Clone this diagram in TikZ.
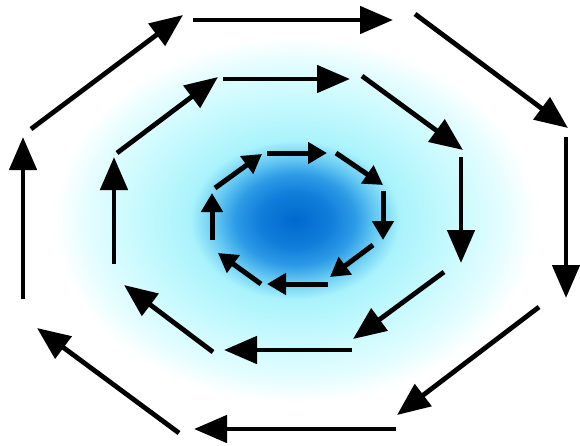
\documentclass[tikz,border=0pt]{standalone}
\usetikzlibrary{arrows.meta}
\definecolor{sc0}{RGB}{0,105,205}
\definecolor{sc1}{RGB}{15,125,218}
\definecolor{sc2}{RGB}{45,155,230}
\definecolor{sc3}{RGB}{100,200,242}
\definecolor{sc4}{RGB}{170,243,252}
\definecolor{sc5}{RGB}{200,250,254}
\definecolor{sc6}{RGB}{230,253,255}
\pgfdeclareradialshading{glow}{\pgfpointorigin}{color(0bp)=(sc0); color(3.5bp)=(sc1); color(6bp)=(sc2); color(8bp)=(sc3); color(10.5bp)=(sc4); color(16bp)=(sc5); color(21bp)=(sc6); color(24bp)=(white); color(50bp)=(white)}
\tikzset{
  bigarrow/.style={line width=4.8pt, -{Triangle[length=33pt,width=27pt]}},
  smallarrow/.style={line width=5pt, -{Triangle[length=19pt,width=21pt]}}
}
\begin{document}
\begin{tikzpicture}[x=1pt,y=-1pt]
\fill[white] (0,0) rectangle (580,445);
\useasboundingbox (0,0) rectangle (580,445);
\shade[shading=glow] (295,220) ellipse [x radius=250, y radius=190];
\foreach \n/\ax/\ay/\bx/\by/\st in {
  o1/31/129/183/15/bigarrow,
  o2/193/20/393/20/bigarrow,
  o3/415/14/568/128/bigarrow,
  o4/566/137/566/298/bigarrow,
  o5/539/307/397/415/bigarrow,
  o6/396/429/194/429/bigarrow,
  o7/179/433/37/328/bigarrow,
  o8/23/299/23/137/bigarrow,
  m1/117/153/218/77/bigarrow,
  m2/223/79/350/79/bigarrow,
  m3/362/76/463/150/bigarrow,
  m4/461/157/461/263/bigarrow,
  m5/444/272/353/339/bigarrow,
  m6/352/350/224/350/bigarrow,
  m7/213/352/124/285/bigarrow,
  m8/114/264/114/157/bigarrow,
  i1/215/188/262/154/smallarrow,
  i2/267/153/327/153/smallarrow,
  i3/336/153/383/185/smallarrow,
  i4/383/191/383/240/smallarrow,
  i5/373/245/330/277/smallarrow,
  i6/328/284/267/284/smallarrow,
  i7/261/284/218/253/smallarrow,
  i8/212/240/212/193/smallarrow}
{
  \coordinate (\n-s) at (\ax,\ay);
  \coordinate (\n-e) at (\bx,\by);
  \draw[\st] (\n-s) -- (\n-e);
}
\end{tikzpicture}
\end{document}
